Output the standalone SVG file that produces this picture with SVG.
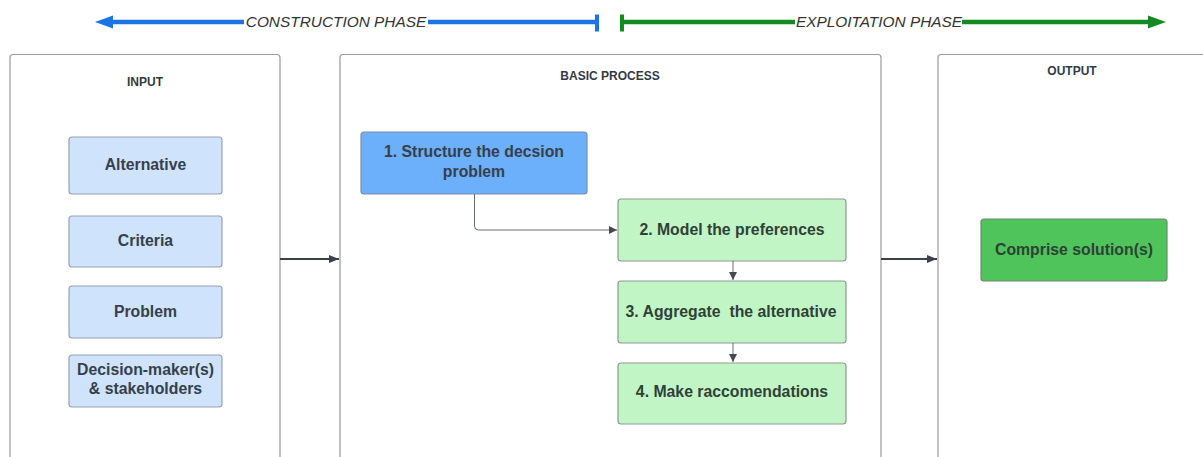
<svg xmlns="http://www.w3.org/2000/svg" width="1203" height="457" viewBox="0 0 1203 457">
  <style>
    .frame { fill: #ffffff; stroke: #9b9b9b; stroke-width: 1.2; }
    .title { font-family: "Liberation Sans", Arial, sans-serif; font-size: 12px; font-weight: bold; fill: #333a44; text-anchor: middle; }
    .lbl { font-family: "Liberation Sans", Arial, sans-serif; font-size: 15.8px; font-weight: bold; fill: #363f4b; text-anchor: middle; }
    .lbl-g { font-family: "Liberation Sans", Arial, sans-serif; font-size: 15.8px; font-weight: bold; fill: #2f4136; text-anchor: middle; white-space: pre; }
    .phase { font-family: "Liberation Sans", Arial, sans-serif; font-size: 15.4px; font-style: italic; fill: #333333; text-anchor: middle; }
    .in-box { fill: #cfe3fd; stroke: #97a3b1; stroke-width: 1.2; }
    .step1 { fill: #6caffb; stroke: #7c8ea3; stroke-width: 1.2; }
    .step { fill: #c2f5c6; stroke: #8e9a92; stroke-width: 1.2; }
    .result { fill: #4ec45b; stroke: #6c8a70; stroke-width: 1.2; }
    .thin { fill: none; stroke: #666b72; stroke-width: 1; }
    .thick { fill: none; stroke: #3a414a; stroke-width: 2.2; }
    .blue { stroke: #1b73e4; stroke-width: 4.5; fill: none; }
    .green { stroke: #138a22; stroke-width: 4.5; fill: none; }
  </style>
  <defs>
    <marker id="small-head" viewBox="0 0 10 10" refX="10" refY="5" markerWidth="8" markerHeight="8" markerUnits="userSpaceOnUse" orient="auto">
      <path d="M0,0 L10,5 L0,10 Z" fill="#444a52"/>
    </marker>
    <marker id="big-head" viewBox="0 0 10 10" refX="10" refY="5" markerWidth="12" markerHeight="10" markerUnits="userSpaceOnUse" orient="auto">
      <path d="M0,1 L10,5 L0,9 Z" fill="#3a414a"/>
    </marker>
  </defs>

  <!-- phase timeline -->
  <g id="construction-phase">
    <path class="blue" d="M110,22 H244 M428,22 H597"/>
    <path d="M95,22 L113,15.5 L113,28.5 Z" fill="#1b73e4"/>
    <rect x="595" y="14.5" width="4" height="17" fill="#1b73e4"/>
    <text class="phase" x="336" y="27">CONSTRUCTION PHASE</text>
  </g>
  <g id="exploitation-phase">
    <path class="green" d="M622,22 H795 M962,22 H1150"/>
    <path d="M1166,22 L1148,15.5 L1148,28.5 Z" fill="#138a22"/>
    <rect x="620" y="14.5" width="4" height="17" fill="#138a22"/>
    <text class="phase" x="879" y="27">EXPLOITATION PHASE</text>
  </g>

  <!-- column frames -->
  <g id="input">
    <rect class="frame" x="10" y="54.5" width="270" height="420" rx="3"/>
    <text class="title" x="145" y="86">INPUT</text>
  </g>
  <g id="basic-process">
    <rect class="frame" x="340" y="54.5" width="541" height="420" rx="3"/>
    <text class="title" x="610" y="80">BASIC PROCESS</text>
  </g>
  <g id="output">
    <rect class="frame" x="938" y="54.5" width="280" height="420" rx="3"/>
    <text class="title" x="1072" y="75">OUTPUT</text>
  </g>

  <!-- input items -->
  <g id="alternative">
    <rect class="in-box" x="69" y="137" width="153" height="57" rx="3"/>
    <text class="lbl" x="145.5" y="170">Alternative</text>
  </g>
  <g id="criteria">
    <rect class="in-box" x="69" y="216" width="153" height="51" rx="3"/>
    <text class="lbl" x="145.5" y="246">Criteria</text>
  </g>
  <g id="problem">
    <rect class="in-box" x="69" y="286" width="153" height="52" rx="3"/>
    <text class="lbl" x="145.5" y="317">Problem</text>
  </g>
  <g id="decision-makers">
    <rect class="in-box" x="69" y="355" width="153" height="52" rx="3"/>
    <text class="lbl" x="145.5" y="375">Decision-maker(s)</text>
    <text class="lbl" x="145.5" y="394">&amp; stakeholders</text>
  </g>

  <!-- process steps -->
  <g id="step-1">
    <rect class="step1" x="361" y="132" width="226" height="62" rx="3"/>
    <text class="lbl" x="474" y="157">1. Structure the decsion</text>
    <text class="lbl" x="474" y="177">problem</text>
  </g>
  <g id="step-2">
    <rect class="step" x="618" y="199" width="228" height="62" rx="3"/>
    <text class="lbl-g" x="732" y="235">2. Model the preferences</text>
  </g>
  <g id="step-3">
    <rect class="step" x="618" y="281" width="228" height="62" rx="3"/>
    <text class="lbl-g" x="731" y="317" xml:space="preserve">3. Aggregate  the alternative</text>
  </g>
  <g id="step-4">
    <rect class="step" x="618" y="363" width="228" height="61" rx="3"/>
    <text class="lbl-g" x="732" y="397">4. Make raccomendations</text>
  </g>

  <!-- result -->
  <g id="comprise-solutions">
    <rect class="result" x="981" y="219" width="186" height="62" rx="3"/>
    <text class="lbl-g" x="1074" y="255">Comprise solution(s)</text>
  </g>

  <!-- connectors -->
  <g id="connectors">
    <path class="thin" d="M474.5,194 V226 Q474.5,230 478.5,230 H617" marker-end="url(#small-head)"/>
    <path class="thin" d="M733,261 V280" marker-end="url(#small-head)"/>
    <path class="thin" d="M733,343 V362" marker-end="url(#small-head)"/>
    <path class="thick" d="M280,259 H339" marker-end="url(#big-head)"/>
    <path class="thick" d="M881,259 H937" marker-end="url(#big-head)"/>
  </g>
</svg>
